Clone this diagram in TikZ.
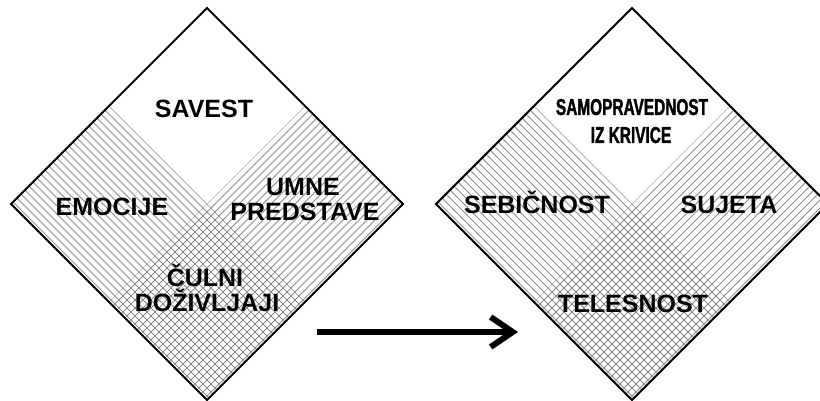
\documentclass[tikz,border=0pt]{standalone}
\usepackage{fontspec}
\setmainfont{Liberation Sans}
\newfontfamily\narrowfont[FakeStretch=0.67,FakeBold=1.5]{Liberation Sans}
\usetikzlibrary{arrows.meta}

\tikzset{
  rim/.style={line width=2pt, line join=miter},
  hatch/.style={black!45, line width=0.75pt},
  lbl/.style={font=\fontsize{25}{25}\selectfont\bfseries, anchor=base, inner sep=0pt},
  nlbl/.style={font=\narrowfont\fontsize{23}{23}\selectfont\bfseries, anchor=base, inner sep=0pt},
  arr/.style={line width=6pt, -{Straight Barb[length=22pt,width=30pt]}}
}

\begin{document}
\begin{tikzpicture}[x=1pt, y=-1pt]
\useasboundingbox (0,0) rectangle (820,401);

% the two diamonds, hatched bands clipped to each half
\foreach \cx/\d in {207/l, 632/r} {
  \coordinate (\d T) at (\cx,8);
  \coordinate (\d B) at (\cx,400);
  \coordinate (\d L) at (\cx-196,204);
  \coordinate (\d R) at (\cx+196,204);
  \coordinate (\d TL) at (\cx-98,106);
  \coordinate (\d TR) at (\cx+98,106);
  \coordinate (\d BL) at (\cx-98,302);
  \coordinate (\d BR) at (\cx+98,302);
  \begin{scope}
    \clip (\d L) -- (\d TL) -- (\d BR) -- (\d B) -- cycle;
    \foreach \k in {-424,-416,...,424}
      \draw[hatch] (\cx+\k-210,-6) -- (\cx+\k+210,414);
  \end{scope}
  \begin{scope}
    \clip (\d R) -- (\d TR) -- (\d BL) -- (\d B) -- cycle;
    \foreach \k in {-424,-416,...,424}
      \draw[hatch] (\cx+\k+210,-6) -- (\cx+\k-210,414);
  \end{scope}
  \draw[rim] (\d T) -- (\d R) -- (\d B) -- (\d L) -- cycle;
}

% left labels
\node[lbl] (savest)     at (204,118) {SAVEST};
\node[lbl] (emocije)    at (112,215) {EMOCIJE};
\node[lbl] (umne)       at (303,196) {UMNE};
\node[lbl] (predstave)  at (305,221) {PREDSTAVE};
\node[lbl] (culni)      at (205,286) {ČULNI};
\node[lbl] (dozivljaji) at (207,311) {DOŽIVLJAJI};

% right labels
\node[nlbl] (samoprav) at (632,115) {SAMOPRAVEDNOST};
\node[nlbl] (krivice)  at (631,143) {IZ KRIVICE};
\node[lbl] (sebicnost) at (537,214) {SEBIČNOST};
\node[lbl] (sujeta)    at (729,214) {SUJETA};
\node[lbl] (telesnost) at (633,312) {TELESNOST};

% arrow
\coordinate (from) at (317,332);
\coordinate (to)   at (518,332);
\draw[arr] (from) -- (to);
\end{tikzpicture}
\end{document}
